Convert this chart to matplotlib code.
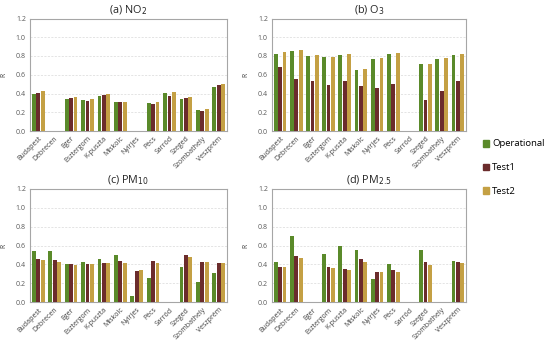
import numpy as np
import matplotlib.pyplot as plt

plt.rcParams['font.family'] = ['Open Sans', 'DejaVu Sans']

stations = ['Budapest', 'Debrecen', 'Eger', 'Esztergom', 'K-puszta', 'Miskolc',
            'Nyírjes', 'Pécs', 'Sarród', 'Szeged', 'Szombathely', 'Veszprém']
nan = np.nan

# (a) NO2
no2_op = [0.40, nan, 0.34, 0.33, 0.37, 0.31, nan, 0.30, 0.41, 0.34, 0.22, 0.47]
no2_t1 = [0.41, nan, 0.35, 0.32, 0.38, 0.31, nan, 0.29, 0.37, 0.35, 0.21, 0.49]
no2_t2 = [0.43, nan, 0.36, 0.34, 0.39, 0.31, nan, 0.31, 0.42, 0.36, 0.23, 0.50]

# (b) O3
o3_op = [0.82, 0.85, 0.80, 0.79, 0.81, 0.65, 0.77, 0.82, nan, 0.71, 0.77, 0.81]
o3_t1 = [0.68, 0.55, 0.53, 0.49, 0.53, 0.48, 0.46, 0.50, nan, 0.33, 0.43, 0.53]
o3_t2 = [0.84, 0.86, 0.81, 0.79, 0.82, 0.66, 0.78, 0.83, nan, 0.72, 0.78, 0.82]

# (c) PM10
pm10_op = [0.54, 0.54, 0.40, 0.43, 0.46, 0.50, 0.065, 0.26, nan, 0.37, 0.215, 0.31]
pm10_t1 = [0.455, 0.445, 0.405, 0.405, 0.415, 0.435, 0.33, 0.435, nan, 0.50, 0.43, 0.42]
pm10_t2 = [0.445, 0.43, 0.395, 0.40, 0.41, 0.415, 0.34, 0.42, nan, 0.48, 0.43, 0.415]

# (d) PM2.5
pm25_op = [0.43, 0.70, nan, 0.51, 0.59, 0.55, 0.25, 0.405, nan, 0.55, nan, 0.435]
pm25_t1 = [0.37, 0.49, nan, 0.375, 0.355, 0.455, 0.325, 0.34, nan, 0.43, nan, 0.425]
pm25_t2 = [0.37, 0.47, nan, 0.36, 0.34, 0.43, 0.32, 0.325, nan, 0.39, nan, 0.41]

series = ['Operational', 'Test1', 'Test2']
colors = ['#5a8a2a', '#6b2c2c', '#c4a044']

panels = [
    ('(a) NO$_2$', [no2_op, no2_t1, no2_t2]),
    ('(b) O$_3$', [o3_op, o3_t1, o3_t2]),
    ('(c) PM$_{10}$', [pm10_op, pm10_t1, pm10_t2]),
    ('(d) PM$_{2.5}$', [pm25_op, pm25_t1, pm25_t2]),
]

W, H = 550, 344
boxes = [(30, 18.5, 227, 131), (272, 18.5, 466, 131),
         (30, 188.7, 227, 302.3), (272, 188.7, 466, 302.3)]

fig = plt.figure(figsize=(5.5, 3.44), dpi=100)
x = np.arange(len(stations))
bw = 0.235
step = 0.27

for (title, vals), (l, t, r, b) in zip(panels, boxes):
    ax = fig.add_axes([l / W, 1 - b / H, (r - l) / W, (b - t) / H])
    for k in range(3):
        ax.bar(x + (k - 1) * step, vals[k], width=bw, color=colors[k],
               label=series[k], zorder=3)
    ax.set_xlim(-0.5, len(stations) - 0.5)
    ax.set_ylim(0, 1.2)
    ax.set_yticks(np.arange(0, 1.21, 0.2))
    ax.set_yticklabels(['%.1f' % v for v in np.arange(0, 1.21, 0.2)],
                       fontsize=5, color='#595959')
    ax.set_xticks(x)
    ax.set_xticklabels(stations, rotation=45, ha='right', rotation_mode='anchor',
                       fontsize=5, color='#404040')
    ax.tick_params(length=0, pad=3)
    ax.yaxis.grid(True, color='#d9d9d9', linestyle=(0, (3, 2)), lw=0.5, zorder=0)
    for s in ax.spines.values():
        s.set_color('#a6a6a6')
        s.set_linewidth(0.8)
    ax.set_ylabel('R', fontsize=5, color='#404040', labelpad=6)
    ax.set_title(title, fontsize=7.8, pad=4, color='#262626')

handles = [plt.Rectangle((0, 0), 1, 1, color=c) for c in colors]
fig.legend(handles, series, loc='upper left', bbox_to_anchor=(474 / W, 1 - 131 / H),
           frameon=False, fontsize=6.8, handlelength=0.7, handleheight=0.7,
           handletextpad=0.3, labelspacing=1.55)

fig.savefig('out.png', dpi=100)
